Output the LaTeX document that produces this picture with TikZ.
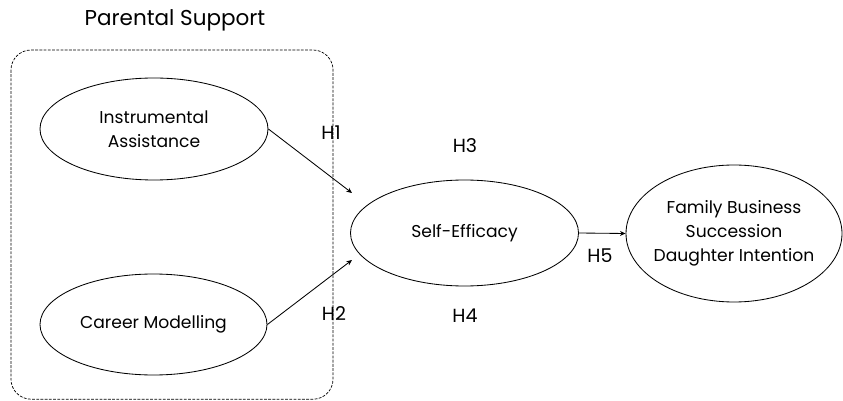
\documentclass[tikz,border=0pt]{standalone}
\usepackage{fontspec}
\setmainfont{Poppins}
\usetikzlibrary{shapes.geometric,arrows.meta}
\tikzset{
	construct/.style={draw, ellipse, line width=0.6pt, inner sep=0pt, align=center, font=\fontsize{12.2}{17}\selectfont},
	hyp/.style={font=\fontsize{13.5}{15}\selectfont},
	path arrow/.style={line width=0.6pt, -{Stealth[length=4pt,width=3.5pt]}}
}
\begin{document}
\begin{tikzpicture}
		\useasboundingbox (0,0) rectangle (21.075,-10.025);
		\node[font=\fontsize{15.3}{18}\selectfont] (title) at (4.375,-0.5) {Parental Support};
		\draw[dashed, line width=0.5pt, dash pattern=on 2pt off 1pt, rounded corners=0.5cm] (0.275,-1.25) rectangle (8.325,-9.98);
		\node[construct, minimum width=5.7cm, minimum height=2.55cm] (ia) at (3.85,-3.225) {Instrumental\\Assistance};
		\node[construct, minimum width=5.675cm, minimum height=2.525cm] (cm) at (3.8375,-8.1125) {Career Modelling};
		\node[construct, minimum width=5.7cm, minimum height=2.65cm] (se) at (11.6125,-5.825) {Self-Efficacy};
		\node[construct, inner xsep=-25pt, inner ysep=-10pt, minimum width=5.4cm, minimum height=3.425cm] (fb) at (18.35,-5.8375) {Family Business\\Succession\\Daughter Intention};
		\coordinate (iaend) at (8.8,-4.825);
		\coordinate (cmend) at (8.8,-6.5);
		\draw[path arrow] (ia.east) -- (iaend);
		\draw[path arrow] (cm.east) -- (cmend);
		\draw[path arrow] (se.east) -- (fb.west);
		\foreach \name/\x/\y in {H1/8.275/-3.325, H2/8.35/-7.85, H3/11.625/-3.65, H4/11.625/-7.9, H5/15/-6.4}
			\node[hyp] (\name) at (\x,\y) {\name};
	\end{tikzpicture}
\end{document}
